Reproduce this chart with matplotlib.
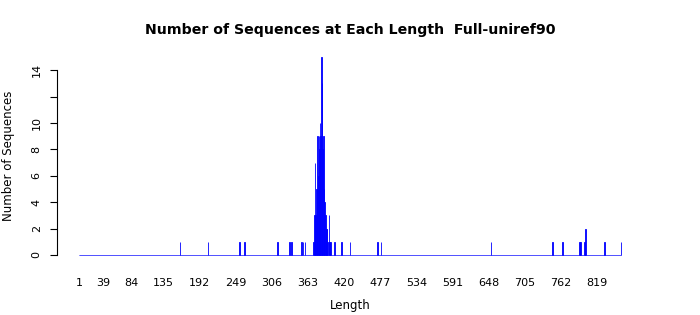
import numpy as np
import matplotlib.pyplot as plt

# sequence lengths that occur, and how many sequences have that length
lengths = [161, 205, 255, 263, 315, 334, 337, 353, 355, 358,
           371, 373, 374, 375, 376, 377, 378, 379, 380, 381,
           382, 383, 384, 385, 386, 387, 388, 389, 390, 391,
           392, 393, 394, 396, 397, 398,
           405, 416, 429, 473, 478, 652, 749, 765, 791, 793,
           799, 801, 831, 857]
counts = [1, 1, 1, 1, 1, 1, 1, 1, 1, 1,
          1, 3, 7, 3, 5, 4, 9, 6, 9, 8,
          10, 9, 15, 13, 8, 9, 5, 4, 3, 2,
          2, 2, 1, 3, 1, 1,
          1, 1, 1, 1, 1, 1, 1, 1, 1, 1,
          1, 2, 1, 1]

xtick_vals = [1, 39, 84, 135, 192, 249, 306, 363, 420, 477, 534, 591, 648, 705, 762, 819]
ytick_vals = [0, 2, 4, 6, 8, 10, 12, 14]
ytick_labels = ['0', '2', '4', '6', '8', '10', '', '14']

# every length from 1 to max, zero where nothing was seen
all_len = np.arange(1, max(lengths) + 1)
all_cnt = np.zeros(len(all_len))
all_cnt[np.array(lengths) - 1] = counts

fig = plt.figure(figsize=(7, 3.15), dpi=100)
ax = fig.add_axes([0.0814, 0.1654, 0.837, 0.679])

ax.bar(all_len, all_cnt, width=1, color='blue', edgecolor='blue', linewidth=0.6)

ax.set_xlim(-33.5, 891.5)
ax.set_ylim(-0.6, 15.6)

for s in ['top', 'right', 'bottom']:
    ax.spines[s].set_visible(False)
ax.spines['left'].set_bounds(0, 14)
ax.spines['left'].set_linewidth(0.8)

ax.set_xticks(xtick_vals)
ax.set_xticklabels([str(v) for v in xtick_vals], fontsize=8)
ax.tick_params(axis='x', length=0, pad=11)
ax.set_yticks(ytick_vals)
ax.set_yticklabels(ytick_labels, fontsize=8, rotation=90, va='center')
ax.tick_params(axis='y', length=5, width=0.8, pad=6)

ax.set_xlabel('Length', fontsize=8.5, labelpad=8)
ax.set_ylabel('Number of Sequences', fontsize=8.5, labelpad=12)
fig.text(0.5, 0.905, 'Number of Sequences at Each Length  Full-uniref90',
         ha='center', va='center', fontsize=10.2, fontweight='bold')

fig.savefig('out.png', dpi=100)
